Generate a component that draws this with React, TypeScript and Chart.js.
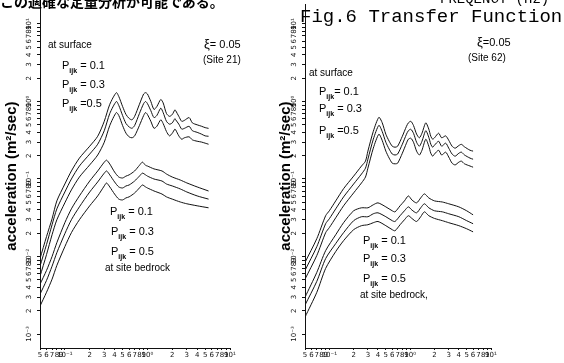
import React, { useEffect, useRef } from 'react';
import { Chart, registerables } from 'chart.js';
Chart.register(...registerables);

const X_TICKS = [0.05, 0.06, 0.07, 0.08, 0.09, 0.1, 0.2, 0.3, 0.4, 0.5, 0.6, 0.7, 0.8, 0.9, 1, 2, 3, 4, 5, 6, 7, 8, 9, 10];
const X_TICK_LABELS = ['5', '6', '7', '8', '9', '10⁻¹', '2', '3', '4', '5', '6', '7', '8', '9', '10⁰', '2', '3', '4', '5', '6', '7', '8', '9', '10¹'];
const Y_TICKS = [
  0.001, 0.002, 0.003, 0.004, 0.005, 0.006, 0.007, 0.008, 0.009,
  0.01, 0.02, 0.03, 0.04, 0.05, 0.06, 0.07, 0.08, 0.09,
  0.1, 0.2, 0.3, 0.4, 0.5, 0.6, 0.7, 0.8, 0.9,
  1, 2, 3, 4, 5, 6, 7, 8, 9, 10,
];
const Y_TICK_LABELS = [
  '10⁻³', '2', '3', '4', '5', '6', '7', '8', '9',
  '10⁻²', '2', '3', '4', '5', '6', '7', '8', '9',
  '10⁻¹', '2', '3', '4', '5', '6', '7', '8', '9',
  '10⁰', '2', '3', '4', '5', '6', '7', '8', '9', '10¹',
];
const X_MIN = 0.05;
const X_MAX = 10;
const Y_MIN = 0.00066;
const Y_MAX = 18;

// Site 21 (left panel)
const S21_SURF_F = [0.05, 0.06, 0.07, 0.08, 0.1, 0.12, 0.15, 0.2, 0.25, 0.3, 0.35, 0.42, 0.45, 0.5, 0.55, 0.6, 0.65, 0.7, 0.8, 0.9, 0.95, 1.0, 1.1, 1.2, 1.3, 1.45, 1.55, 1.7, 1.85, 2.0, 2.15, 2.2, 2.4, 2.6, 2.8, 3.2, 3.5, 4.0, 4.5, 5.0, 5.5];
const S21_SURF_P01 = [0.0094, 0.0181, 0.0307, 0.0522, 0.0862, 0.127, 0.186, 0.265, 0.356, 0.555, 0.92, 1.3, 1.16, 0.863, 0.68, 0.605, 0.58, 0.643, 0.92, 1.25, 1.3, 1.25, 1.0, 0.79, 0.86, 1.06, 0.96, 0.7, 0.643, 0.68, 0.78, 0.76, 0.643, 0.555, 0.57, 0.62, 0.53, 0.5, 0.48, 0.46, 0.45];
const S21_SURF_P03 = [0.0075, 0.0143, 0.0257, 0.0412, 0.068, 0.1, 0.147, 0.21, 0.281, 0.42, 0.7, 1.0, 0.89, 0.66, 0.52, 0.47, 0.451, 0.49, 0.7, 0.94, 1.0, 0.94, 0.76, 0.62, 0.66, 0.82, 0.72, 0.555, 0.51, 0.53, 0.6, 0.58, 0.51, 0.44, 0.45, 0.478, 0.42, 0.4, 0.38, 0.36, 0.356];
const S21_SURF_P05 = [0.00555, 0.0106, 0.0191, 0.0298, 0.0493, 0.0723, 0.106, 0.152, 0.204, 0.298, 0.49, 0.72, 0.66, 0.49, 0.39, 0.35, 0.34, 0.36, 0.49, 0.66, 0.72, 0.68, 0.555, 0.451, 0.478, 0.58, 0.52, 0.41, 0.36, 0.39, 0.44, 0.43, 0.36, 0.326, 0.34, 0.35, 0.32, 0.307, 0.3, 0.29, 0.281];
const S21_BED_F = [0.05, 0.06, 0.07, 0.08, 0.1, 0.12, 0.15, 0.2, 0.25, 0.3, 0.32, 0.35, 0.4, 0.45, 0.5, 0.55, 0.6, 0.7, 0.8, 0.87, 0.95, 1.0, 1.2, 1.5, 1.7, 2.0, 2.5, 3.0, 4.0, 5.5];
const S21_BED_P01 = [0.00438, 0.00662, 0.01, 0.0151, 0.0273, 0.0412, 0.0605, 0.0942, 0.127, 0.165, 0.175, 0.156, 0.123, 0.106, 0.103, 0.109, 0.113, 0.127, 0.15, 0.165, 0.15, 0.147, 0.135, 0.127, 0.116, 0.106, 0.097, 0.089, 0.079, 0.07];
const S21_BED_P03 = [0.00326, 0.00492, 0.0075, 0.0112, 0.0197, 0.0298, 0.0437, 0.068, 0.0917, 0.119, 0.127, 0.113, 0.0917, 0.0789, 0.0766, 0.0813, 0.0837, 0.0942, 0.109, 0.119, 0.113, 0.109, 0.1, 0.0942, 0.0862, 0.0813, 0.0744, 0.068, 0.0605, 0.055];
const S21_BED_P05 = [0.00229, 0.00346, 0.0051, 0.00767, 0.0134, 0.0203, 0.0298, 0.0451, 0.0605, 0.0813, 0.0888, 0.079, 0.064, 0.055, 0.0537, 0.057, 0.0588, 0.066, 0.0766, 0.0837, 0.079, 0.0766, 0.0701, 0.064, 0.0588, 0.055, 0.0505, 0.0479, 0.0451, 0.0425];

// Site 62 (right panel)
const S62_SURF_F = [0.05, 0.07, 0.09, 0.1, 0.12, 0.15, 0.2, 0.25, 0.28, 0.3, 0.35, 0.41, 0.45, 0.5, 0.55, 0.6, 0.65, 0.7, 0.8, 0.9, 0.95, 1.02, 1.1, 1.2, 1.3, 1.4, 1.56, 1.7, 1.8, 1.9, 2.0, 2.25, 2.45, 2.75, 3.0, 3.3, 3.6, 4.0, 4.3, 4.7, 5.5, 6.0];
const S62_SURF_P01 = [0.0084, 0.017, 0.0336, 0.0389, 0.0522, 0.075, 0.109, 0.147, 0.17, 0.229, 0.412, 0.624, 0.535, 0.378, 0.307, 0.265, 0.257, 0.265, 0.356, 0.478, 0.53, 0.555, 0.49, 0.38, 0.34, 0.39, 0.53, 0.44, 0.356, 0.326, 0.34, 0.39, 0.34, 0.36, 0.316, 0.265, 0.25, 0.27, 0.28, 0.26, 0.235, 0.229];
const S62_SURF_P03 = [0.00662, 0.0134, 0.0265, 0.0307, 0.0412, 0.0587, 0.0863, 0.116, 0.138, 0.18, 0.326, 0.492, 0.412, 0.298, 0.243, 0.21, 0.204, 0.21, 0.281, 0.378, 0.42, 0.438, 0.389, 0.298, 0.265, 0.307, 0.42, 0.345, 0.281, 0.257, 0.273, 0.307, 0.265, 0.29, 0.25, 0.21, 0.197, 0.215, 0.222, 0.204, 0.186, 0.18];
const S62_SURF_P05 = [0.0051, 0.0103, 0.0203, 0.0236, 0.0316, 0.0451, 0.0662, 0.089, 0.106, 0.138, 0.25, 0.378, 0.316, 0.229, 0.186, 0.16, 0.157, 0.16, 0.215, 0.29, 0.326, 0.336, 0.298, 0.229, 0.204, 0.235, 0.326, 0.265, 0.215, 0.197, 0.21, 0.235, 0.204, 0.222, 0.192, 0.16, 0.152, 0.165, 0.17, 0.157, 0.147, 0.142];
const S62_BED_F = [0.05, 0.07, 0.09, 0.12, 0.15, 0.2, 0.25, 0.3, 0.35, 0.4, 0.5, 0.6, 0.65, 0.75, 0.85, 0.95, 1.05, 1.2, 1.35, 1.5, 1.7, 2.0, 2.5, 3.0, 4.0, 5.0, 6.0];
const S62_BED_P01 = [0.00298, 0.00624, 0.0119, 0.0191, 0.0273, 0.0389, 0.0425, 0.0425, 0.0465, 0.0492, 0.0437, 0.0389, 0.0377, 0.0451, 0.0522, 0.0605, 0.0537, 0.0492, 0.057, 0.0643, 0.057, 0.0522, 0.0505, 0.0479, 0.0437, 0.0389, 0.0345];
const S62_BED_P03 = [0.00236, 0.00478, 0.0094, 0.0147, 0.0203, 0.029, 0.0326, 0.0326, 0.0356, 0.0366, 0.0326, 0.029, 0.0283, 0.0336, 0.0389, 0.0437, 0.0398, 0.0366, 0.0425, 0.0479, 0.0425, 0.0389, 0.0377, 0.0356, 0.0326, 0.029, 0.0265];
const S62_BED_P05 = [0.00165, 0.00345, 0.00702, 0.0116, 0.016, 0.0222, 0.025, 0.0257, 0.0273, 0.0283, 0.025, 0.0222, 0.0215, 0.0257, 0.0298, 0.0336, 0.031, 0.0283, 0.0326, 0.0377, 0.0336, 0.031, 0.029, 0.0273, 0.025, 0.0228, 0.0208];

const INK = '#111';
const SANS = '"Liberation Sans", Arial, sans-serif';

type PanelProps = {
  left: number; width: number; axisWidth: number; padRight: number; titlePad: number;
  surfF: number[]; surf: number[][]; bedF: number[]; bed: number[][];
};

function Panel(p: PanelProps) {
  const ref = useRef<HTMLCanvasElement>(null);
  useEffect(() => {
    const mk = (f: number[], v: number[]) => ({
      data: f.map((x, i) => ({ x, y: v[i] })),
      borderColor: INK, borderWidth: 1, pointRadius: 0, tension: 0.25, fill: false,
    });
    const chart = new Chart(ref.current as HTMLCanvasElement, {
      type: 'line',
      data: { datasets: [...p.surf.map((v) => mk(p.surfF, v)), ...p.bed.map((v) => mk(p.bedF, v))] as any },
      options: {
        animation: false, responsive: false, devicePixelRatio: 1,
        layout: { padding: { left: 0, top: 2, right: p.padRight, bottom: 0 } },
        plugins: { legend: { display: false }, tooltip: { enabled: false } },
        scales: {
          x: {
            type: 'logarithmic', min: X_MIN, max: X_MAX,
            afterBuildTicks: (s: any) => { s.ticks = X_TICKS.map((v) => ({ value: v })); },
            afterFit: (s: any) => { s.height = 15; },
            ticks: {
              autoSkip: false, minRotation: 0, maxRotation: 0, padding: 1, color: INK,
              font: { size: 7, family: '"DejaVu Sans", sans-serif' },
              callback: (v: any) => X_TICK_LABELS[X_TICKS.indexOf(Number(v))] ?? '',
            },
            grid: { drawOnChartArea: false, drawTicks: true, tickLength: 2, color: INK },
            border: { color: INK, width: 1 },
          },
          y: {
            type: 'logarithmic', min: Y_MIN, max: Y_MAX,
            afterBuildTicks: (s: any) => { s.ticks = Y_TICKS.map((v) => ({ value: v })); },
            afterFit: (s: any) => { s.width = p.axisWidth; },
            ticks: {
              autoSkip: false, minRotation: 90, maxRotation: 90, crossAlign: 'center', padding: 0, color: INK,
              font: { size: 7, family: '"DejaVu Sans", sans-serif' },
              callback: (v: any) => Y_TICK_LABELS[Y_TICKS.indexOf(Number(v))] ?? '',
            },
            grid: { drawOnChartArea: false, drawTicks: true, tickLength: 3, color: INK },
            border: { color: INK, width: 1 },
            title: {
              display: true, text: 'acceleration (m²/sec)', color: '#000',
              font: { size: 15, weight: 'bold', family: SANS, lineHeight: 1.1 },
              padding: { top: p.titlePad, bottom: 0 },
            },
          },
        },
      } as any,
    });
    return () => chart.destroy();
  }, []);
  return (
    <canvas ref={ref} width={p.width} height={363}
      style={{ position: 'absolute', left: p.left, top: 0, width: p.width, height: 363 }} />
  );
}

function T({ x, y, children, size = 10, style = {} }: any) {
  return (
    <div style={{ position: 'absolute', left: x, top: y, fontFamily: SANS, fontSize: size, lineHeight: 1, color: '#000', whiteSpace: 'nowrap', ...style }}>
      {children}
    </div>
  );
}

function PL({ x, y, text }: { x: number; y: number; text: string }) {
  return (
    <T x={x} y={y} size={11}>
      P<span style={{ fontSize: 7, fontWeight: 'bold', position: 'relative', top: 4 }}>ijk</span>{text}
    </T>
  );
}

export default function App() {
  return (
    <div style={{ position: 'absolute', left: 0, top: 0, width: 564, height: 363, overflow: 'hidden', background: '#fff' }}>
      <Panel left={0} width={280} axisWidth={40} padRight={50} titlePad={4}
        surfF={S21_SURF_F} surf={[S21_SURF_P01, S21_SURF_P03, S21_SURF_P05]}
        bedF={S21_BED_F} bed={[S21_BED_P01, S21_BED_P03, S21_BED_P05]} />
      <Panel left={270} width={294} axisWidth={35} padRight={73} titlePad={8}
        surfF={S62_SURF_F} surf={[S62_SURF_P01, S62_SURF_P03, S62_SURF_P05]}
        bedF={S62_BED_F} bed={[S62_BED_P01, S62_BED_P03, S62_BED_P05]} />

      <T x={0} y={-6} size={14} style={{ fontFamily: '"Noto Sans CJK JP", sans-serif', fontWeight: 'bold' }}>この適確な定量分析が可能である。</T>
      <T x={440} y={-8} size={14} style={{ fontFamily: '"Liberation Mono", monospace' }}>FREQENCY (Hz)</T>
      <T x={300} y={8} size={19} style={{ fontFamily: '"Liberation Mono", monospace' }}>Fig.6 Transfer Function</T>

      <T x={48} y={40}>at surface</T>
      <PL x={62} y={60} text=" = 0.1" />
      <PL x={62} y={79} text=" = 0.3" />
      <PL x={62} y={98} text=" =0.5" />
      <T x={204} y={37} size={11}><span style={{ fontSize: 13 }}>ξ</span>= 0.05</T>
      <T x={203} y={55}>(Site 21)</T>
      <PL x={110} y={206} text=" = 0.1" />
      <PL x={111} y={226} text=" = 0.3" />
      <PL x={111} y={246} text=" = 0.5" />
      <T x={105} y={263}>at site bedrock</T>

      <T x={477} y={35} size={11}><span style={{ fontSize: 13 }}>ξ</span>=0.05</T>
      <T x={468} y={53}>(Site 62)</T>
      <T x={309} y={68}>at surface</T>
      <PL x={319} y={86} text="= 0.1" />
      <PL x={319} y={103} text=" = 0.3" />
      <PL x={319} y={125} text=" =0.5" />
      <PL x={363} y={235} text=" = 0.1" />
      <PL x={363} y={253} text=" = 0.3" />
      <PL x={363} y={273} text=" = 0.5" />
      <T x={360} y={290}>at site bedrock,</T>
    </div>
  );
}
